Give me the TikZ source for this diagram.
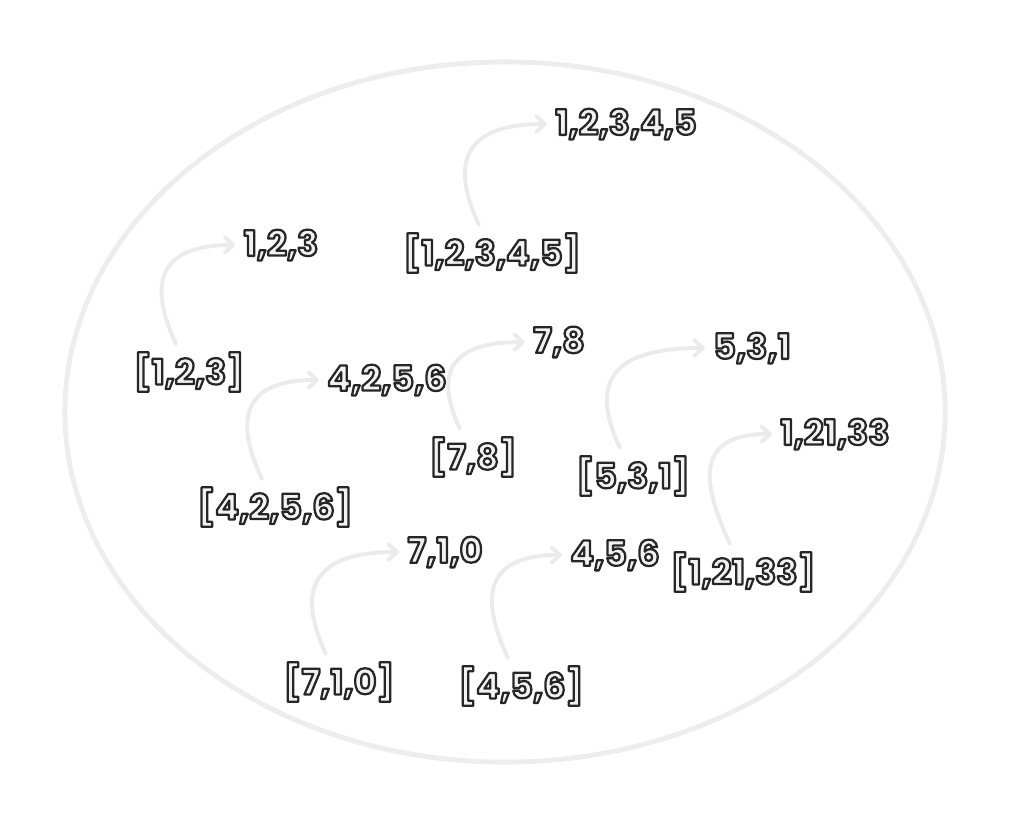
\documentclass[tikz,border=0pt]{standalone}
\usepackage{fontspec}
\setmainfont{Poppins}
\usetikzlibrary{arrows.meta}
% outlined text: fill and stroke the glyphs
\newcommand{\outl}[1]{\special{pdf:literal direct q 2 Tr 1.6 w 1 j 0.15 G}#1\special{pdf:literal direct Q}}
\tikzset{
    txt/.style={font=\fontsize{25}{30}\selectfont\bfseries, text=black!5, inner sep=2pt, outer sep=4pt},
    arr/.style={draw=black!8, line width=2.8pt, line cap=round, looseness=1.6,
        -{Straight Barb[length=6pt,width=11pt,round]}},
    ring/.style={draw=black!7, line width=3.5pt}
}
\begin{document}
\begin{tikzpicture}[x=0.025cm,y=-0.025cm]
        \useasboundingbox (0,0) rectangle (1009,825);
        % outer set
        \draw[ring] (505,412) ellipse [x radius=11cm, y radius=8.75cm];
        % lists
        \node[txt] (l12345) at (492,253) {\outl{[1,2,3,4,5]}};
        \node[txt] (l123)   at (189,372) {\outl{[1,2,3]}};
        \node[txt] (l78)    at (473,457) {\outl{[7,8]}};
        \node[txt] (l531)   at (633,476) {\outl{[5,3,1]}};
        \node[txt] (l4256)  at (275,507) {\outl{[4,2,5,6]}};
        \node[txt] (l12133) at (743,572) {\outl{[1,21,33]}};
        \node[txt] (l710)   at (339,682) {\outl{[7,1,0]}};
        \node[txt] (l456)   at (521,686) {\outl{[4,5,6]}};
        % unpacked values
        \node[txt] (v12345) at (626,124) {\outl{1,2,3,4,5}};
        \node[txt] (v123)   at (281,245) {\outl{1,2,3}};
        \node[txt] (v78)    at (559,342) {\outl{7,8}};
        \node[txt] (v531)   at (752,348) {\outl{5,3,1}};
        \node[txt] (v4256)  at (387,380) {\outl{4,2,5,6}};
        \node[txt] (v12133) at (835,434) {\outl{1,21,33}};
        \node[txt] (v710)   at (445,552) {\outl{7,1,0}};
        \node[txt] (v456)   at (615,555) {\outl{4,5,6}};
        % arrows
        \foreach \a in {12345,123,78,531,4256,12133,710,456}
            \draw[arr] (l\a) to[out=115,in=180] (v\a);
    \end{tikzpicture}
\end{document}
